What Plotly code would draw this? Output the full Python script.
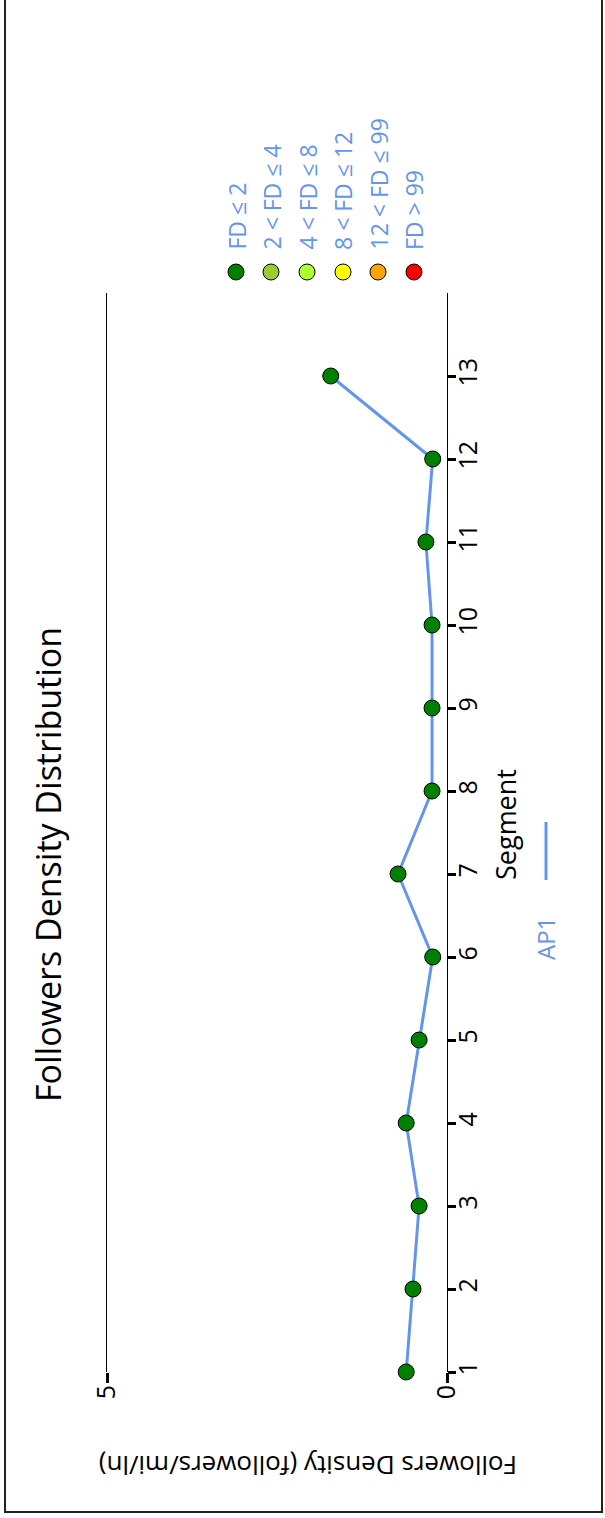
import plotly.graph_objects as go

# Followers density per segment for approach AP1
segments = [1, 2, 3, 4, 5, 6, 7, 8, 9, 10, 11, 12, 13]
density = [0.60, 0.50, 0.41, 0.60, 0.41, 0.21, 0.72, 0.22, 0.22, 0.22, 0.31, 0.21, 1.71]

series_name = "AP1"
density_ticks = [0, 5]

legend_labels = ["FD \u2264 2", "2 < FD \u2264 4", "4 < FD \u2264 8",
                 "8 < FD \u2264 12", "12 < FD \u2264 99", "FD > 99"]
legend_colors = ["#008000", "#9ACD32", "#ADFF2F", "#FFFF00", "#FFA500", "#FF0000"]

W, H = 605, 1518
L, R, T, B = 107, 447, 293, 1372  # plot-area edges in pixels
FONT = "Open Sans, Noto Sans, sans-serif"
BLUE = "#6495ED"


def px(x):
    return (x - L) / (R - L)


def py(y):
    return (B - y) / (B - T)


fig = go.Figure()
fig.add_trace(go.Scatter(
    x=density, y=segments, mode="lines+markers", name=series_name,
    line=dict(color=BLUE, width=3),
    marker=dict(size=16, color="#008000", line=dict(color="black", width=1)),
    cliponaxis=False, showlegend=False,
))

annotations = [
    dict(text="Followers Density Distribution", x=px(48), y=py(865),
         textangle=-90, font=dict(size=34, color="black", family=FONT)),
    dict(text="Segment", x=px(505), y=py(825),
         textangle=-90, font=dict(size=27, color="black", family=FONT)),
    dict(text="Followers Density (followers/mi/ln)", x=px(308), y=py(1466),
         textangle=180, font=dict(size=26, color="black", family=FONT)),
    dict(text=series_name, x=px(546), y=py(939),
         textangle=-90, font=dict(size=24, color=BLUE, family=FONT)),
]
legend_x = [236, 271, 307, 343, 378, 414]
for lx, lab in zip(legend_x, legend_labels):
    annotations.append(dict(text=lab, x=px(lx), y=py(252), yanchor="bottom",
                            textangle=-90,
                            font=dict(size=23, color=BLUE, family=FONT)))
for a in annotations:
    a.update(xref="paper", yref="paper", showarrow=False)
    a.setdefault("xanchor", "center")
    a.setdefault("yanchor", "middle")

shapes = [
    dict(type="rect", xref="paper", yref="paper",
         x0=px(5), x1=px(602), y0=py(1512), y1=py(-5),
         line=dict(color="#222", width=2)),
    dict(type="line", xref="paper", yref="paper",
         x0=px(546), x1=px(546), y0=py(822), y1=py(880),
         line=dict(color=BLUE, width=3)),
]
for lx, c in zip(legend_x, legend_colors):
    shapes.append(dict(type="circle", xref="paper", yref="paper",
                       xsizemode="pixel", ysizemode="pixel",
                       xanchor=px(lx), yanchor=py(272),
                       x0=-8, x1=8, y0=-8, y1=8,
                       fillcolor=c, line=dict(color="black", width=1)))

fig.update_layout(
    width=W, height=H,
    margin=dict(l=L, r=W - R, t=T, b=H - B, pad=0),
    paper_bgcolor="white", plot_bgcolor="white",
    font=dict(family=FONT, color="black"),
    showlegend=False,
    xaxis=dict(range=[5, 0], tickvals=density_ticks, showgrid=True,
               gridcolor="black", gridwidth=1, zeroline=False, showline=False,
               ticks="outside", ticklen=10, tickwidth=3, tickcolor="black",
               ticklabelstandoff=-8,
               tickangle=-90, tickfont=dict(size=25, family=FONT)),
    yaxis=dict(range=[1, 14], tickvals=segments, side="right",
               showgrid=False, zeroline=False, showline=True, mirror=True,
               linecolor="black", linewidth=1,
               ticks="outside", ticklen=8, tickwidth=3, tickcolor="black",
               ticklabelstandoff=-9,
               tickangle=-90, tickfont=dict(size=25, family=FONT)),
    annotations=annotations, shapes=shapes,
)

fig.write_html("out.html")
